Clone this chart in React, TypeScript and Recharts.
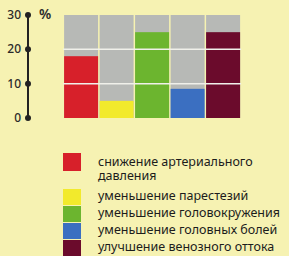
import { BarChart, Bar, XAxis, YAxis, Cell } from "recharts";

const categories = [
  "снижение артериального\nдавления",
  "уменьшение парестезий",
  "уменьшение головокружения",
  "уменьшение головных болей",
  "улучшение венозного оттока",
];
const values = [18, 5, 25, 8.5, 25];
const colors = ["#d7202a", "#f2ea2c", "#6cb52f", "#3b6fc1", "#6b0b2c"];
const yTicks = [0, 10, 20, 30];
const gridLevels = [10, 20];
const Y_MAX = 30;

const data = categories.map((name, i) => ({ name, value: values[i] }));

const BG = "#f6f2b2";
const FONT = "'Noto Sans', sans-serif";

function AxisTick(props: any) {
  const { x, y, payload } = props;
  return (
    <g>
      <text x={x - 1} y={y} dy={4} textAnchor="end" fontSize={12} fontWeight={500} fill="#2a2a2a" fontFamily={FONT}>
        {payload.value}
      </text>
      <circle cx={x + 6} cy={y} r={3} fill="#222" />
    </g>
  );
}

// bar rect plus the white grid lines laid over it (the grid sits on top of the bars here)
function GridBar(props: any) {
  const { x, y, width, height, fill, background } = props;
  return (
    <g>
      <rect x={x} y={y} width={width} height={height} fill={fill} />
      {background &&
        gridLevels.map((l) => {
          const ly = background.y + background.height * (1 - l / Y_MAX);
          return <line key={l} x1={background.x - 1} x2={background.x + background.width + 1} y1={ly} y2={ly} stroke="#f0f0ea" strokeWidth={1.5} />;
        })}
    </g>
  );
}

function ChartLegend() {
  return (
    <div style={{ position: "absolute", top: 153, left: 63, fontFamily: FONT, fontSize: 12.5, color: "#1c1c1c" }}>
      {categories.map((c, i) => (
        <div key={i} style={{ display: "flex", alignItems: "flex-start", height: i === 0 ? 36 : 17 }}>
          <div style={{ width: 18, height: i === 0 ? 18 : 16, background: colors[i], flex: "none" }} />
          <div style={{ marginLeft: 17, whiteSpace: "pre-line", lineHeight: i === 0 ? "13.5px" : "15px", marginTop: i === 0 ? 2 : -1 }}>
            {c}
          </div>
        </div>
      ))}
    </div>
  );
}

export default function App() {
  return (
    <div style={{ position: "relative", width: 289, height: 256, background: BG, overflow: "hidden" }}>
      <style>{`body{margin:0}`}</style>
      <BarChart
        width={289}
        height={130}
        data={data}
        margin={{ top: 15, right: 48, bottom: 12, left: 0 }}
        barCategoryGap={0.6}
      >
        <XAxis dataKey="name" hide padding={{ left: 35.5, right: 0 }} />
        <YAxis
          domain={[0, Y_MAX]}
          ticks={yTicks}
          width={28}
          axisLine={{ stroke: "#222", strokeWidth: 2 }}
          tickLine={false}
          tickSize={6}
          tickMargin={0}
          tick={<AxisTick />}
          interval={0}
        />
        <Bar dataKey="value" isAnimationActive={false} background={{ fill: "#b7b9b6" }} shape={<GridBar />}>
          {data.map((_, i) => (
            <Cell key={i} fill={colors[i]} />
          ))}
        </Bar>
      </BarChart>
      <span style={{ position: "absolute", left: 39, top: 4, fontFamily: FONT, fontSize: 14, fontWeight: 600, color: "#2a2a2a" }}>
        %
      </span>
      <ChartLegend />
    </div>
  );
}
